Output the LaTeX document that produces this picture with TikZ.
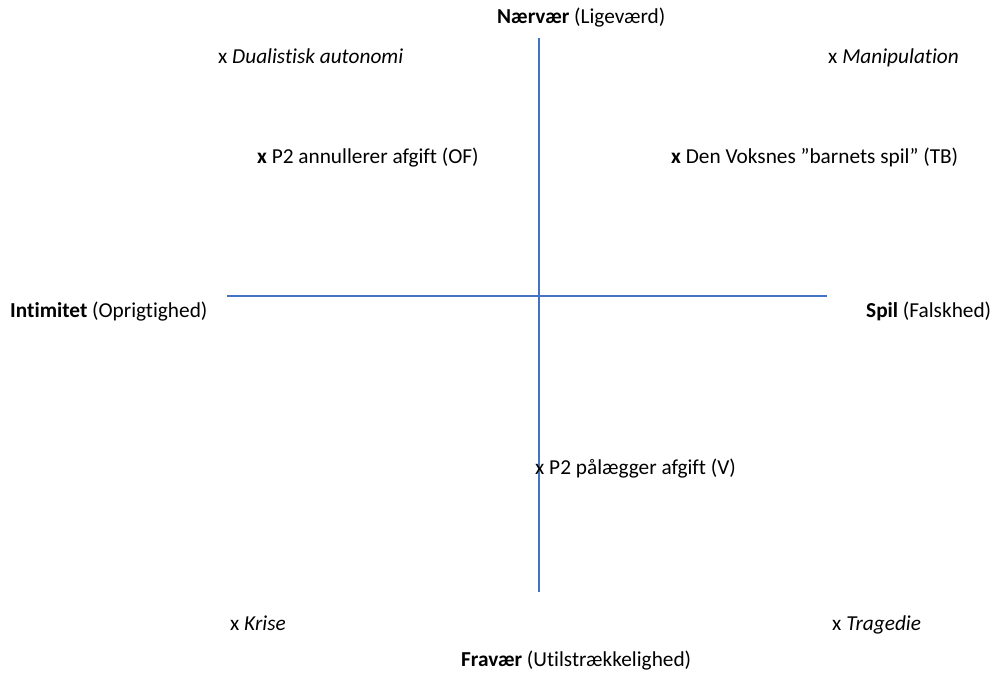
\documentclass[tikz,border=0pt]{standalone}
\usepackage{fontspec}
\setmainfont[Ligatures={NoCommon}]{Carlito}
\definecolor{axisblue}{HTML}{4472C4}
\begin{document}
\begin{tikzpicture}[x=1pt,y=-1pt,
  lbl/.style={anchor=base west,inner sep=0pt,font=\fontsize{21.3}{25}\selectfont},
  axis/.style={draw=axisblue,line width=2pt}]
\useasboundingbox (0,0) rectangle (993,675);
\coordinate (top) at (539,38);
\coordinate (bot) at (539,592);
\coordinate (lft) at (227,296);
\coordinate (rgt) at (827,296);
\draw[axis] (top) -- (bot);
\draw[axis] (lft) -- (rgt);
\node[lbl] (n) at (497,23) {\textbf{Nærvær} (Ligeværd)};
\node[lbl] (da) at (218,63) {x \textit{Dualistisk autonomi}};
\node[lbl] (ma) at (828,63) {x \textit{Manipulation}};
\node[lbl] (p2a) at (257,163) {\textbf{x} P2 annullerer afgift (OF)};
\node[lbl] (dv) at (671,163) {\textbf{x} Den Voksnes ”barnets spil” (TB)};
\node[lbl] (in) at (10,317) {\textbf{Intimitet} (Oprigtighed)};
\node[lbl] (sp) at (866,317) {\textbf{Spil} (Falskhed)};
\node[lbl] (p2p) at (535,474) {x P2 pålægger afgift (V)};
\node[lbl] (kr) at (230,630) {x \textit{Krise}};
\node[lbl] (tr) at (832,630) {x \textit{Tragedie}};
\node[lbl] (fr) at (461,666) {\textbf{Fravær} (Utilstrækkelighed)};
\end{tikzpicture}
\end{document}
